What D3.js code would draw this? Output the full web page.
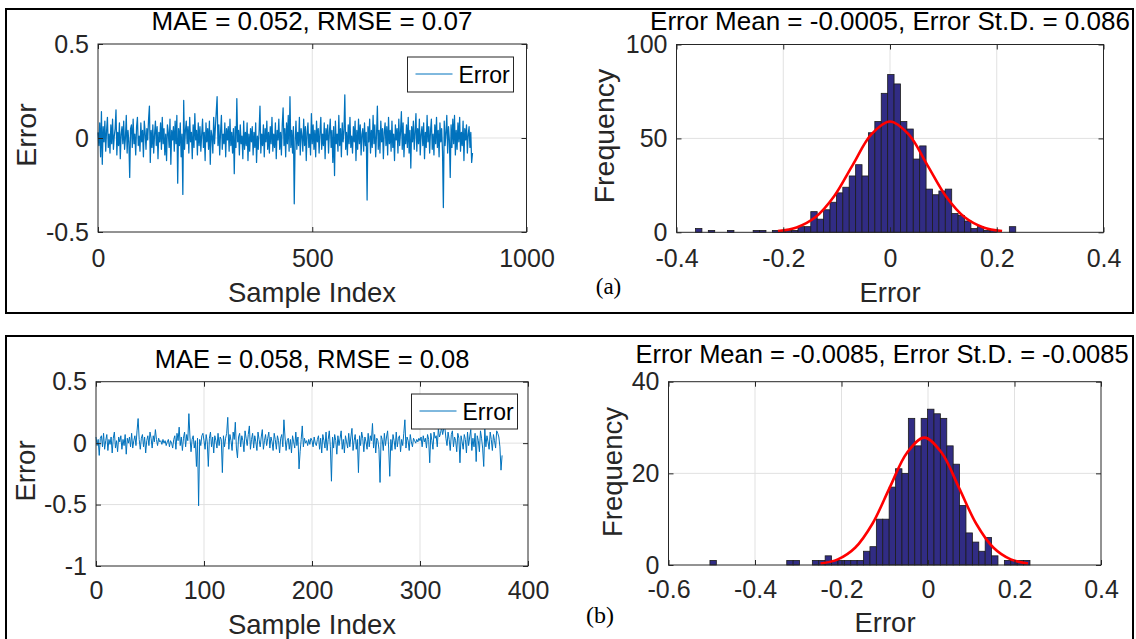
<!DOCTYPE html>
<html>
<head>
<meta charset="utf-8">
<script src="https://cdn.jsdelivr.net/npm/d3@7"></script>
<style>
  body { margin: 0; background: #fff; }
  svg text { font-family: "Liberation Sans", Arial, Helvetica, sans-serif; }
</style>
</head>
<body>
<div id="chart-area"></div>
<script>
/*
*    error plots (a) and (b)
*/

// ---- data ----

// (a) prediction error, read every 2nd sample
const stepA = 2;
const errA = [
 .03,-.04,.08,-.10,.14,-.14,.06,-.02,.09,-.07,.04,.11,-.05,.02,-.08,.07,-.03,.10,-.06,.01,
 .05,.15,-.09,.03,-.04,.08,-.11,.02,.06,-.03,.09,-.06,.00,.12,-.08,.04,-.02,-.21,.05,.07,
 -.05,.10,-.03,.02,-.09,.06,.11,-.04,.01,-.07,.08,-.02,.04,-.10,.09,.03,-.06,.05,-.01,.10,
 .17,-.13,.04,-.05,.07,-.08,.02,.09,-.04,.06,-.11,.03,-.02,.08,-.06,.11,-.03,.05,-.09,.02,
 -.12,.07,.03,-.05,.10,-.14,.04,-.01,.06,-.07,.09,-.03,.12,-.24,.05,-.04,.08,-.10,.02,-.30,
 .20,-.06,.04,.09,-.03,.06,-.08,.11,-.02,.03,-.11,.07,-.05,.13,-.01,.04,-.09,.08,-.04,.06,
 -.07,.02,.10,-.05,.03,-.12,.08,-.02,.05,-.06,.09,-.14,.04,.01,-.08,.11,-.03,.06,.14,.22,
 -.04,.07,-.09,.03,.12,-.06,.02,-.03,.08,-.10,.05,-.01,.06,-.07,.10,-.04,.03,-.08,.05,-.19,
 .06,-.05,.21,-.02,.04,-.09,.07,-.03,.01,-.11,.09,-.06,.03,-.04,.08,-.12,.02,-.07,.05,-.02,
 .06,-.09,.03,-.05,.08,-.13,.01,-.06,.04,.17,-.08,.02,-.04,.07,-.10,.05,-.02,.09,-.06,.03,
 -.08,.06,-.03,.11,-.07,.02,-.05,.08,-.11,.04,-.01,.10,-.06,.03,-.09,.07,.16,-.04,.05,-.10,
 .08,-.03,.12,-.07,.22,-.05,.04,-.08,.06,-.35,-.02,.09,-.06,.03,-.04,.11,-.09,.05,.01,-.07,
 .10,-.04,.06,-.12,.03,.08,-.05,.02,-.09,.13,-.03,.07,-.06,.04,-.10,.09,-.02,.05,-.08,.03,
 .11,-.06,.02,-.04,.08,-.11,.05,-.01,.07,-.08,.03,.10,-.05,.04,-.13,.06,-.20,.09,-.03,.02,
 -.07,.12,-.04,.05,-.10,.08,-.02,.04,.23,-.06,.03,-.09,.07,-.03,.11,-.05,.01,-.08,.06,-.02,
 .09,-.12,.04,-.06,.10,-.03,.07,-.09,.02,.05,-.07,.08,-.04,.03,-.33,.06,-.02,.10,-.08,.04,
 -.05,.12,-.03,.07,-.10,.02,.17,-.06,.04,-.08,.09,-.02,.05,-.11,.03,.08,-.04,.06,-.09,.11,
 -.03,.04,-.07,.09,-.05,.02,-.12,.07,-.01,.05,-.08,.10,-.04,.03,.14,-.06,.08,-.10,.02,-.03,
 .07,-.05,.11,-.08,.04,-.16,.06,-.02,.09,-.06,.03,.13,-.07,.05,-.03,.10,-.09,.02,.06,-.04,
 .08,-.11,.03,-.05,.12,-.02,.06,-.08,.04,.10,-.06,.02,-.09,.07,-.03,.11,-.05,.04,-.10,.08,
 -.02,.05,-.07,-.37,.09,-.04,.03,.12,-.08,.06,-.01,-.21,.07,-.05,.10,-.03,.12,-.09,.04,-.06,
 .08,-.02,.11,-.07,.03,-.04,.09,-.12,.05,-.01,.07,-.08,.02,.06,-.05,.03,-.13,-.08
];

// (b) prediction error, every sample
const stepB = 1;
const errB = [
 .05,-.02,.03,-.10,.04,.06,-.03,.08,-.05,.02,.07,-.06,.03,-.01,.05,-.08,.04,.09,-.04,.02,
 -.07,.05,.01,.06,-.05,.03,-.02,.07,-.09,.04,.00,.05,-.03,.08,-.04,.02,.06,-.02,.10,.20,
 .03,-.05,.04,.07,-.03,.05,-.08,.02,.06,-.02,.09,.04,-.04,.06,.01,.11,.03,-.02,.04,.01,
 .02,-.01,.03,.00,.02,-.02,.01,.03,-.03,.02,.00,-.04,.03,.06,-.05,.08,.02,.13,-.02,.05,
 -.06,.04,.09,-.03,.07,.02,.24,.05,-.07,.03,.06,-.04,.02,-.19,.04,-.51,.03,-.02,.06,.08,
 .02,-.05,.07,.01,-.19,.04,.09,-.03,.05,-.08,.06,.02,-.04,.08,-.02,.05,.03,-.24,.06,-.03,
 .04,.08,.21,-.05,.07,.02,-.06,.09,.03,.17,-.04,-.12,.05,.08,-.03,.06,.02,-.07,.10,.04,
 -.02,.07,.14,-.05,.03,.08,-.04,.06,.01,-.06,.09,.03,-.03,.05,.11,-.05,.02,.07,-.02,.04,
 .09,-.04,.05,.01,-.06,.08,.03,-.05,.06,.02,-.08,.04,.07,-.03,.19,.05,-.06,.02,.04,-.05,
 .03,-.08,.06,.01,-.04,.09,-.02,.05,-.21,-.07,.03,.14,-.03,.04,.00,.02,-.02,.03,-.01,.04,
 .02,-.03,.05,.00,-.02,.03,.06,-.05,.04,-.08,.07,.02,-.04,.09,-.06,.03,.10,-.03,-.31,.05,
 -.04,.07,.02,-.09,.06,-.02,.04,.10,-.05,.03,-.08,.06,.01,-.04,.08,-.03,.05,.12,-.06,.02,
 .07,-.05,.03,-.24,.06,-.02,.09,.04,-.07,.05,.01,-.05,.08,-.03,.06,.02,.16,-.04,.07,-.08,
 .04,.02,-.05,-.32,.06,.03,-.06,.08,-.02,.05,.10,-.04,-.27,.03,-.06,.07,.02,-.05,.09,-.03,
 .04,.06,-.07,.03,-.02,.08,.19,-.04,.05,.02,-.06,.07,.01,-.03,.04,.02,.00,.03,.01,.04,
 .02,.05,-.03,.06,.01,.04,-.04,.07,.03,-.16,.08,.02,-.05,.09,.04,.06,-.03,.12,.05,.08,
 .13,.07,.12,.13,.04,-.02,.09,.03,-.06,.07,.10,-.03,.05,.02,-.07,.08,.04,-.16,.06,.01,
 -.05,.07,.03,-.08,.09,-.02,.05,.11,-.06,.04,-.03,.08,-.15,.06,.02,-.07,.10,.04,-.04,-.19,
 .12,-.03,.06,.01,-.05,.09,.03,-.06,.07,.02,-.04,.10,.08,.05,-.03,-.22,-.10
];

// histogram (a): bin start, bin width, counts
const binStartA = -0.3644;
const binWidthA = 0.012;
const countsA = [2,0,1,0,0,1,0,0,0,1,1,0,1,1,1,1,3,3,11,7,12,16,21,24,30,36,30,53,59,74,
                 84,79,59,55,39,46,23,20,22,23,10,9,6,2,3,1,1,0,0,3];

// histogram (b)
const binStartB = -0.5042;
const binWidthB = 0.0148;
const countsB = [1,0,0,0,0,0,0,0,0,0,0,0,1,1,0,0,1,1,2,1,1,1,1,1,3,4,10,10,17,21,20,32,26,
                 32,34,33,32,26,22,13,7,5,3,6,2,0,1,1,1,1];

// fitted normal curves
const fitXA = [-.21,-.175,-.14,-.105,-.07,-.035,0,.035,.07,.105,.14,.175,.21];
const fitYA = [0.66,2.6,8.0,19.1,35.8,52.1,59,52.1,35.8,19.1,8.0,2.6,0.66];
const fitXB = [-.2485,-.2085,-.1685,-.1285,-.0885,-.0485,-.0085,.0315,.0715,.1115,.1515,.1915,.2315];
const fitYB = [0.31,1.22,3.76,9.0,16.9,24.5,27.8,24.5,16.9,9.0,3.76,1.22,0.31];

// ticks
const lineXTicksA = [0,500,1000];
const lineXLabelsA = ["0","500","1000"];
const lineYTicksA = [-0.5,0,0.5];
const lineYLabelsA = ["-0.5","0","0.5"];
const lineXTicksB = [0,100,200,300,400];
const lineXLabelsB = ["0","100","200","300","400"];
const lineYTicksB = [-1,-0.5,0,0.5];
const lineYLabelsB = ["-1","-0.5","0","0.5"];
const histXTicksA = [-0.4,-0.2,0,0.2,0.4];
const histXLabelsA = ["-0.4","-0.2","0","0.2","0.4"];
const histYTicksA = [0,50,100];
const histXTicksB = [-0.6,-0.4,-0.2,0,0.2,0.4];
const histXLabelsB = ["-0.6","-0.4","-0.2","0","0.2","0.4"];
const histYTicksB = [0,20,40];

const titles = ["MAE = 0.052, RMSE = 0.07",
                "Error Mean = -0.0005, Error St.D. = 0.086",
                "MAE = 0.058, RMSE = 0.08",
                "Error Mean = -0.0085, Error St.D. = -0.0085"];

// ---- drawing ----
const width = 1136;
const height = 639;
const axisColor = "#262626";
const lineColor = "#0072bd";

const svg = d3.select("#chart-area")
    .append("svg")
    .attr("width", width)
    .attr("height", height);

svg.append("rect")
    .attr("width", "100%")
    .attr("height", "100%")
    .attr("fill", "white");

// outer frames of (a) and (b)
svg.append("rect")
    .attr("x", 6).attr("y", 9)
    .attr("width", 1127).attr("height", 304)
    .attr("fill", "none").attr("stroke", "black").attr("stroke-width", 2);
svg.append("rect")
    .attr("x", 6).attr("y", 336)
    .attr("width", 1127).attr("height", 330)
    .attr("fill", "none").attr("stroke", "black").attr("stroke-width", 2);

// one MATLAB style axes: grid, data (callback), ticks on all four sides, box
function axesPanel(p) {
    const w = p.box[2] - p.box[0];
    const h = p.box[3] - p.box[1];
    const g = svg.append("g")
        .attr("transform", "translate(" + p.box[0] + "," + p.box[1] + ")");

    const x = d3.scaleLinear().domain(p.xDomain).range([0, w]);
    const y = d3.scaleLinear().domain(p.yDomain).range([h, 0]);

    //Grid on interior ticks
    const grid = g.append("g").attr("stroke", "#e1e1e1").attr("stroke-width", 1);
    grid.selectAll(".gx")
        .data(p.xTicks.filter(d => d > p.xDomain[0] && d < p.xDomain[1]))
        .enter().append("line")
        .attr("x1", d => x(d)).attr("x2", d => x(d))
        .attr("y1", 0).attr("y2", h);
    grid.selectAll(".gy")
        .data(p.yTicks.filter(d => d > p.yDomain[0] && d < p.yDomain[1]))
        .enter().append("line")
        .attr("y1", d => y(d)).attr("y2", d => y(d))
        .attr("x1", 0).attr("x2", w);

    p.draw(g, x, y, w, h);

    //Axes
    const bottom = g.append("g")
        .attr("transform", "translate(0," + h + ")")
        .call(d3.axisBottom(x).tickValues(p.xTicks)
            .tickFormat((d, i) => p.xLabels[i])
            .tickSizeInner(-5).tickSizeOuter(0).tickPadding(p.xPad));
    const left = g.append("g")
        .call(d3.axisLeft(y).tickValues(p.yTicks)
            .tickFormat((d, i) => p.yLabels[i])
            .tickSizeInner(-5).tickSizeOuter(0).tickPadding(9));
    const top = g.append("g")
        .call(d3.axisTop(x).tickValues(p.xTicks).tickFormat("")
            .tickSizeInner(-5).tickSizeOuter(0));
    const right = g.append("g")
        .attr("transform", "translate(" + w + ",0)")
        .call(d3.axisRight(y).tickValues(p.yTicks).tickFormat("")
            .tickSizeInner(-5).tickSizeOuter(0));

    [bottom, left, top, right].forEach(a => {
        a.attr("color", axisColor).attr("font-size", 25);
        a.select(".domain").remove();
    });

    g.append("rect")
        .attr("width", w).attr("height", h)
        .attr("fill", "none")
        .attr("stroke", axisColor)
        .attr("stroke-width", 1);

    return {g, x, y, w, h};
}

function errorLine(values, step, lw) {
    return (g, x, y) => {
        g.append("path")
            .datum(values)
            .attr("fill", "none")
            .attr("stroke", lineColor)
            .attr("stroke-width", lw)
            .attr("stroke-linejoin", "round")
            .attr("d", d3.line().x((d, i) => x(i * step)).y(d => y(d)));
    };
}

function histogram(counts, start, binW, fitX, fitY) {
    return (g, x, y) => {
        const bins = counts.map((c, i) => ({x0: start + i * binW, x1: start + (i + 1) * binW, c: c}))
            .filter(b => b.c > 0);
        g.selectAll(".bar")
            .data(bins)
            .enter().append("rect")
            .attr("class", "bar")
            .attr("x", d => x(d.x0))
            .attr("width", d => x(d.x1) - x(d.x0))
            .attr("y", d => y(d.c))
            .attr("height", d => y(0) - y(d.c))
            .attr("fill", "#312c84")
            .attr("stroke", "#1c1c1c")
            .attr("stroke-width", 0.8);

        g.append("path")
            .datum(fitX.map((v, i) => [v, fitY[i]]))
            .attr("fill", "none")
            .attr("stroke", "#ff0000")
            .attr("stroke-width", 2.6)
            .attr("d", d3.line().curve(d3.curveCatmullRom)
                .x(d => x(d[0])).y(d => y(d[1])));
    };
}

function legend(x, y) {
    const lg = svg.append("g").attr("transform", "translate(" + x + "," + y + ")");
    lg.append("rect")
        .attr("width", 106).attr("height", 35)
        .attr("fill", "white").attr("stroke", axisColor).attr("stroke-width", 1);
    lg.append("line")
        .attr("x1", 8).attr("x2", 45).attr("y1", 17).attr("y2", 17)
        .attr("stroke", lineColor).attr("stroke-width", 1);
    lg.append("text")
        .attr("x", 51).attr("y", 26)
        .attr("font-size", 23).attr("fill", "black")
        .text("Error");
}

function label(x, y, txt, size, rotate, fill) {
    const t = svg.append("text")
        .attr("text-anchor", "middle")
        .attr("font-size", size)
        .attr("fill", fill || axisColor)
        .text(txt);
    if (rotate) {
        t.attr("transform", "translate(" + x + "," + y + ") rotate(-90)");
    } else {
        t.attr("x", x).attr("y", y);
    }
    return t;
}

// (a) left: error line
axesPanel({
    box: [98, 44, 526.5, 232],
    xDomain: [0, 1000], yDomain: [-0.5, 0.5],
    xTicks: lineXTicksA, xLabels: lineXLabelsA,
    yTicks: lineYTicksA, yLabels: lineYLabelsA,
    xPad: 17,
    draw: errorLine(errA, stepA, 1.25)
});
legend(407.5, 57);
label(312, 30, titles[0], 26, false, "black");
label(312, 302, "Sample Index", 27.5);
label(36, 135, "Error", 28.5, true);

// (a) right: histogram
axesPanel({
    box: [676.5, 44.5, 1103.5, 232.3],
    xDomain: [-0.4, 0.4], yDomain: [0, 100],
    xTicks: histXTicksA, xLabels: histXLabelsA,
    yTicks: histYTicksA, yLabels: histYTicksA.map(String),
    xPad: 17,
    draw: histogram(countsA, binStartA, binWidthA, fitXA, fitYA)
});
label(890, 30, titles[1], 26, false, "black");
label(890, 302, "Error", 27.5);
label(614, 136, "Frequency", 28.5, true);

// (b) left: error line
axesPanel({
    box: [96, 381.7, 528, 566],
    xDomain: [0, 400], yDomain: [-1, 0.5],
    xTicks: lineXTicksB, xLabels: lineXLabelsB,
    yTicks: lineYTicksB, yLabels: lineYLabelsB,
    xPad: 15.5,
    draw: errorLine(errB, stepB, 1)
});
legend(411.5, 394);
label(312, 367.5, titles[2], 25.5, false, "black");
label(312, 633.5, "Sample Index", 27.5);
label(34.5, 471, "Error", 27.5, true);

// (b) right: histogram
axesPanel({
    box: [668.5, 381.7, 1101, 565],
    xDomain: [-0.6, 0.4], yDomain: [0, 40],
    xTicks: histXTicksB, xLabels: histXLabelsB,
    yTicks: histYTicksB, yLabels: histYTicksB.map(String),
    xPad: 15.5,
    draw: histogram(countsB, binStartB, binWidthB, fitXB, fitYB)
});
label(882, 363.3, titles[3], 25.5, false, "black");
label(885, 631.7, "Error", 27.5);
label(622, 472, "Frequency", 27.5, true);

// panel tags
label(608.5, 294, "(a)", 23, false, "black")
    .style("font-family", "'Liberation Serif', 'Times New Roman', serif");
label(600, 623, "(b)", 24, false, "black")
    .style("font-family", "'Liberation Serif', 'Times New Roman', serif");
</script>
</body>
</html>
